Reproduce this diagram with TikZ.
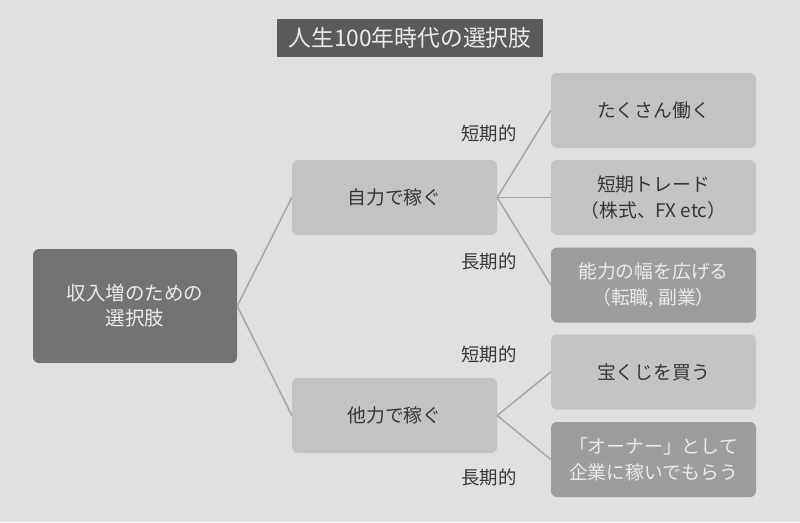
\documentclass[tikz,border=0pt]{standalone}
\usepackage{fontspec}
\setmainfont{Noto Sans CJK JP}
\begin{document}
\begin{tikzpicture}[x=1pt, y=-1pt, line join=round]
  \definecolor{canvas}{HTML}{E0E0E0}
  \definecolor{titlebg}{HTML}{5A5A5A}
  \definecolor{rootbg}{HTML}{737373}
  \definecolor{midbg}{HTML}{C3C3C3}
  \definecolor{deepbg}{HTML}{9D9D9D}
  \definecolor{ink}{HTML}{363636}
  \definecolor{pale}{HTML}{EAEAEA}
  \definecolor{wire}{HTML}{A6A6A6}
  \path[use as bounding box] (0,0) rectangle (800,522);
  \fill[canvas] (0,0) rectangle (800,522);
  \tikzset{
    card/.style={rounded corners=6pt, minimum width=205pt, minimum height=75pt,
      align=center, inner sep=2pt, font=\fontsize{18.8}{26}\selectfont},
    plain/.style={card, fill=midbg, text=ink},
    deep/.style={card, fill=deepbg, text=pale},
    term/.style={text=ink, font=\fontsize{18.4}{20}\selectfont, inner sep=0pt}
  }
  \node[fill=titlebg, text=pale, minimum width=266pt, minimum height=38pt, inner sep=0pt,
    font=\fontsize{22.8}{24}\selectfont] (title) at (410,38) {人生100年時代の選択肢};
  % Root of the tree on the left.
  \node[card, fill=rootbg, text=pale, minimum width=204pt, minimum height=114pt,
    font=\fontsize{19.5}{25}\selectfont] (root) at (135,306) {収入増のための\\選択肢};
  % Two ways of earning.
  \node[plain] (self) at (394.5,197.5) {自力で稼ぐ};
  \node[plain] (other) at (394.5,415.5) {他力で稼ぐ};
  % Concrete options on the right.
  \node[plain] (work) at (653.5,110.5) {たくさん働く};
  \node[plain] (trade) at (653.5,197.5) {短期トレード\\（株式、FX etc）};
  \node[deep] (skill) at (653.5,285) {能力の幅を広げる\\（転職, 副業）};
  \node[plain] (lottery) at (653.5,372) {宝くじを買う};
  \node[deep] (owner) at (653.5,459.5) {「オーナー」として\\企業に稼いでもらう};
  % Branches.
  \draw[wire, line width=1.5pt] (root.east) -- (self.west);
  \draw[wire, line width=1.5pt] (root.east) -- (other.west);
  \draw[wire, line width=1.5pt] (self.east) -- (work.west);
  \draw[wire, line width=1.5pt] (self.east) -- (trade.west);
  \draw[wire, line width=1.5pt] (self.east) -- (skill.west);
  \draw[wire, line width=1.5pt] (other.east) -- (lottery.west);
  \draw[wire, line width=1.5pt] (other.east) -- (owner.west);
  % Time-span labels beside the branches.
  \node[term] (short1) at (489,134) {短期的};
  \node[term] (long1) at (489,262) {長期的};
  \node[term] (short2) at (489,355) {短期的};
  \node[term] (long2) at (489,478) {長期的};
\end{tikzpicture}
\end{document}
